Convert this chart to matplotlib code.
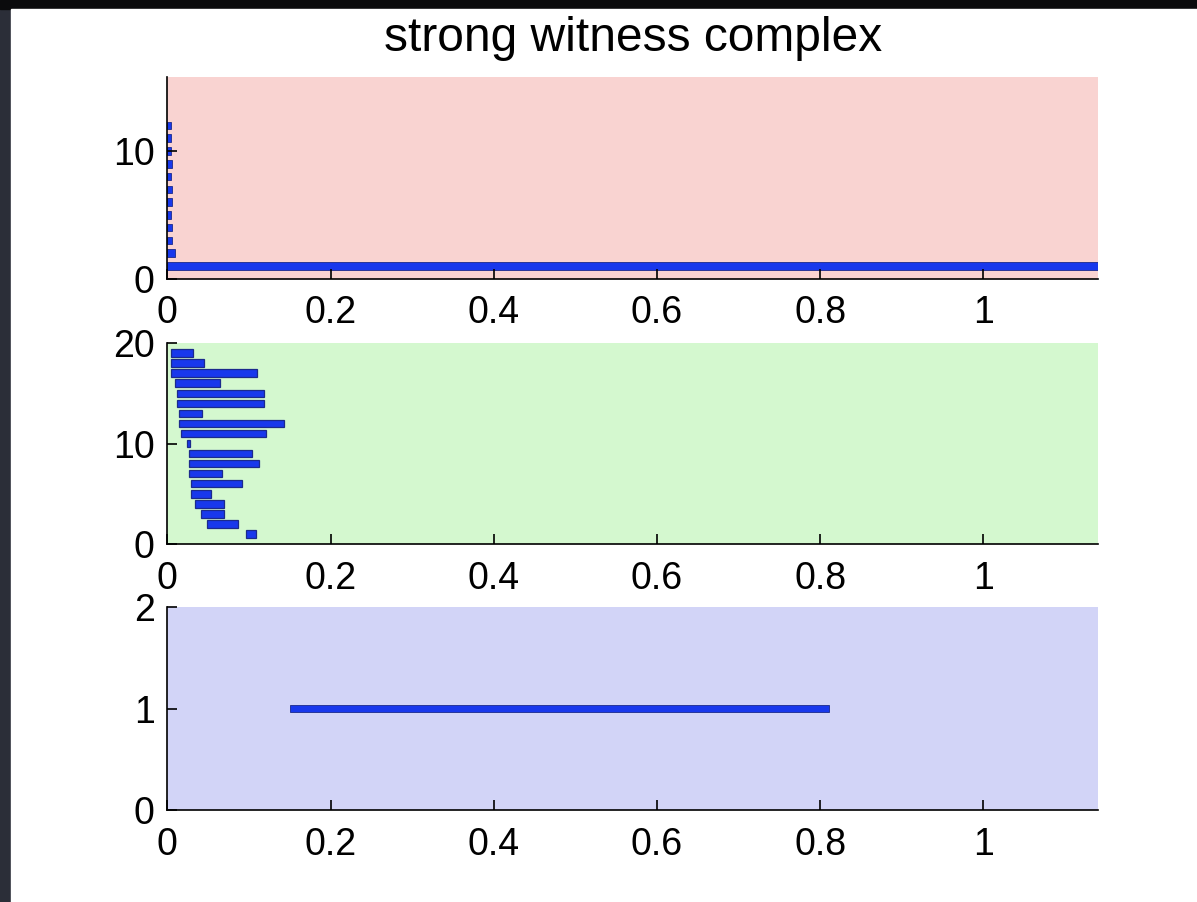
import numpy as np
import matplotlib
matplotlib.use("Agg")
import matplotlib.pyplot as plt
from matplotlib.patches import Rectangle

plt.rcParams['font.family'] = ['Liberation Sans', 'DejaVu Sans']

# barcode data: each bar is (y level, start, end)
top_y = [1, 2, 3, 4, 5, 6, 7, 8, 9, 10, 11, 12]
top_start = [0, 0, 0, 0, 0, 0, 0, 0, 0, 0, 0, 0]
top_end = [1.14, 0.009, 0.006, 0.006, 0.005, 0.006, 0.006, 0.005, 0.006, 0.005, 0.004, 0.004]

mid_y = [19, 18, 17, 16, 15, 14, 13, 12, 11, 10, 9, 8, 7, 6, 5, 4, 3, 2, 1]
mid_start = [0.004, 0.004, 0.004, 0.009, 0.012, 0.012, 0.014, 0.014, 0.017, 0.024,
             0.026, 0.026, 0.026, 0.029, 0.029, 0.034, 0.041, 0.048, 0.097]
mid_end = [0.031, 0.045, 0.110, 0.065, 0.119, 0.119, 0.043, 0.143, 0.121, 0.028,
           0.104, 0.112, 0.067, 0.092, 0.053, 0.070, 0.070, 0.087, 0.109]

bot_y = [1]
bot_start = [0.150]
bot_end = [0.811]

x_ticks = [0, 0.2, 0.4, 0.6, 0.8, 1]
x_labels = ["0", "0.2", "0.4", "0.6", "0.8", "1"]
title = "strong witness complex"

fig = plt.figure(figsize=(11.97, 9.02), dpi=100)
fig.patch.set_facecolor('#2b2e38')
# white page area, dark strips on left and top
fig.patches.append(Rectangle((0, 0.99), 1, 0.01, transform=fig.transFigure,
                             color='#0b0b0d', zorder=-2))
fig.patches.append(Rectangle((11/1197, 0), 1, (902-9)/902, transform=fig.transFigure,
                             color='white', zorder=-1))

bar_color = '#1838ec'
edge_color = '#1b2a8c'

def setup(ax, bg, ylim, yticks):
    ax.set_facecolor(bg)
    ax.set_xlim(0, 1.141)
    ax.set_ylim(*ylim)
    ax.set_xticks(x_ticks)
    ax.set_xticklabels(x_labels)
    ax.set_yticks(yticks)
    ax.spines['top'].set_visible(False)
    ax.spines['right'].set_visible(False)
    ax.spines['left'].set_linewidth(1.2)
    ax.spines['bottom'].set_linewidth(1.2)
    ax.tick_params(direction='in', length=7, width=1.2, labelsize=27, pad=9)
    ax.tick_params(axis='x', pad=12)

# top panel
ax1 = fig.add_axes([0.1398, 0.691, 0.7778, 0.2236])
setup(ax1, '#f9d3d1', (0, 15.8), [0, 10])
ax1.barh(top_y, np.array(top_end) - np.array(top_start), left=top_start, height=0.6,
         color=bar_color, edgecolor=edge_color, linewidth=0.6)
ax1.set_title(title, fontsize=34.5, pad=19)

# middle panel
ax2 = fig.add_axes([0.1398, 0.3969, 0.7778, 0.2228])
setup(ax2, '#d4f8cf', (0, 20), [0, 10, 20])
ax2.barh(mid_y, np.array(mid_end) - np.array(mid_start), left=mid_start, height=0.75,
         color=bar_color, edgecolor=edge_color, linewidth=0.9)

# bottom panel
ax3 = fig.add_axes([0.1398, 0.102, 0.7778, 0.225])
setup(ax3, '#d2d4f7', (0, 2), [0, 1, 2])
ax3.barh(bot_y, np.array(bot_end) - np.array(bot_start), left=bot_start, height=0.07,
         color=bar_color, edgecolor=edge_color, linewidth=0.6)

fig.savefig("out.png", dpi=100, facecolor=fig.get_facecolor())
